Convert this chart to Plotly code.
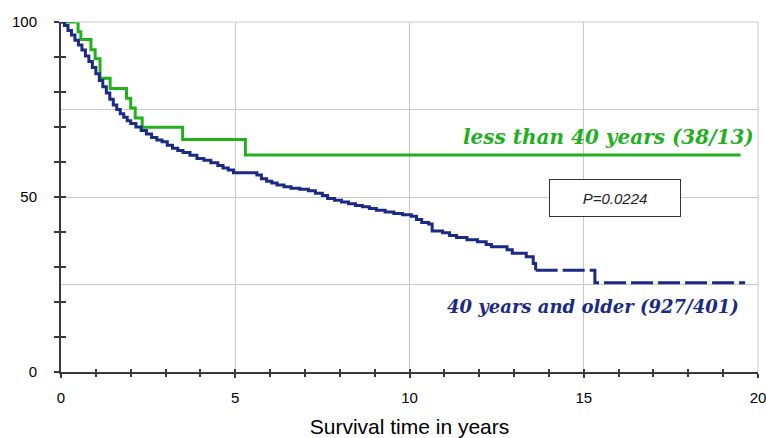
import plotly.graph_objects as go

# Kaplan-Meier style survival curves
young_years = [0, 0.49, 0.57, 0.86, 0.98, 1.12, 1.41, 1.88, 2.0, 2.13, 2.33, 3.49, 5.29, 19.5]
young_surv = [100, 97.2, 95.0, 92.1, 89.5, 83.9, 81.0, 78.2, 75.4, 72.6, 69.9, 66.4, 62.0, 62.0]

older_years = [0, 0.10, 0.20, 0.30, 0.40, 0.50, 0.60, 0.70, 0.80, 0.90, 1.00,
               1.10, 1.20, 1.30, 1.40, 1.50, 1.60, 1.70, 1.80, 1.90, 2.00,
               2.15, 2.30, 2.45, 2.60, 2.75, 2.90, 3.05, 3.20, 3.35, 3.50,
               3.70, 3.90, 4.10, 4.30, 4.50, 4.65, 4.80, 4.95, 5.62, 5.75,
               5.90, 6.05, 6.20, 6.40, 6.60, 6.85, 7.10, 7.30, 7.50, 7.65,
               7.85, 8.05, 8.25, 8.45, 8.65, 8.85, 9.05, 9.30, 9.55, 9.80,
               10.05, 10.20, 10.35, 10.55, 10.65, 10.95, 11.15, 11.35, 11.65, 11.95,
               12.20, 12.35, 12.80, 12.95, 13.35, 13.55, 13.62]
older_surv = [100, 99.0, 97.6, 96.3, 94.8, 93.4, 92.0, 90.3, 88.7, 87.0, 85.2,
              83.3, 81.5, 79.7, 77.9, 76.3, 75.0, 73.8, 72.8, 71.8, 71.0,
              70.0, 69.0, 68.0, 67.0, 66.3, 65.8, 64.8, 63.9, 63.3, 62.7,
              61.9, 61.0, 60.5, 59.8, 59.0, 58.3, 57.7, 56.9, 56.3, 55.2,
              54.5, 54.0, 53.4, 52.9, 52.5, 52.2, 51.8, 51.1, 50.4, 49.6,
              49.1, 48.6, 48.1, 47.6, 47.2, 46.7, 46.2, 45.7, 45.3, 44.9,
              44.5, 43.6, 42.7, 42.3, 40.3, 39.8, 39.0, 38.4, 37.8, 37.2,
              36.4, 35.8, 34.9, 33.9, 32.9, 31.0, 29.1]
# sparse tail, drawn dashed
tail_years = [13.62, 15.32, 19.63]
tail_surv = [29.1, 25.5, 25.5]

GREEN = '#22b01e'
BLUE = '#1b2a84'
AXIS = '#3a3a3a'
GRID = '#c9c9c9'

fig = go.Figure()

# empty traces so the overlay axes (grid + crossing ticks) get drawn
fig.add_trace(go.Scatter(x=[], y=[], xaxis='x2', yaxis='y', showlegend=False, hoverinfo='skip'))
fig.add_trace(go.Scatter(x=[], y=[], xaxis='x', yaxis='y2', showlegend=False, hoverinfo='skip'))
fig.add_trace(go.Scatter(x=[], y=[], xaxis='x', yaxis='y3', showlegend=False, hoverinfo='skip'))

fig.add_trace(go.Scatter(
    x=young_years, y=young_surv, mode='lines', line_shape='hv',
    line=dict(color=GREEN, width=3), name='less than 40 years'
))
fig.add_trace(go.Scatter(
    x=older_years, y=older_surv, mode='lines', line_shape='hv',
    line=dict(color=BLUE, width=3), name='40 years and older'
))
fig.add_trace(go.Scatter(
    x=tail_years, y=tail_surv, mode='lines', line_shape='hv',
    line=dict(color=BLUE, width=3, dash='22px,5px'), showlegend=False
))

# top and right frame lines in grid colour
fig.add_shape(type='line', xref='paper', yref='paper', x0=0.02, x1=1, y0=1, y1=1,
              line=dict(color=GRID, width=1), layer='above')
fig.add_shape(type='line', xref='paper', yref='paper', x0=1, x1=1, y0=0, y1=1,
              line=dict(color=GRID, width=1), layer='above')

fig.add_annotation(
    x=19.95, y=67.1, xref='x', yref='y', xanchor='right', yanchor='middle',
    text='<b><i>less than 40 years (38/13)</i></b>', showarrow=False,
    font=dict(family='DejaVu Serif', size=20, color=GREEN)
)
fig.add_annotation(
    x=19.52, y=18.6, xref='x', yref='y', xanchor='right', yanchor='middle',
    text='<b><i>40 years and older (927/401)</i></b>', showarrow=False,
    font=dict(family='DejaVu Serif', size=18, color=BLUE)
)
fig.add_annotation(
    x=15.9, y=49.6, xref='x', yref='y', showarrow=False,
    text='<i>P=0.0224</i>', font=dict(family='Liberation Sans', size=15, color='#222'),
    bgcolor='white', bordercolor='#333', borderwidth=1, width=128, height=34
)

tick_font = dict(family='Liberation Sans', size=15, color='black')

fig.update_layout(
    width=766, height=438,
    margin=dict(l=61, r=8, t=22, b=66),
    plot_bgcolor='white', paper_bgcolor='white',
    showlegend=False,
    xaxis=dict(
        range=[0, 20], tickvals=[0, 5, 10, 15, 20], ticks='outside', ticklen=4,
        tickwidth=1.5, tickcolor=AXIS, minor=dict(dtick=1, ticks='outside', ticklen=3, tickcolor=AXIS),
        showline=True, linecolor=AXIS, linewidth=2, showgrid=True, gridcolor=GRID,
        zeroline=False, tickfont=tick_font, ticklabelstandoff=7, automargin=False,
        ticklabeloverflow='allow', tickprefix='<b>', ticksuffix='</b>',
        title=dict(text='Survival time in years', font=dict(family='Liberation Sans', size=21, color='black'), standoff=19)
    ),
    xaxis2=dict(
        overlaying='x', anchor='y', range=[0, 20], tickvals=[0, 5, 10, 15, 20],
        ticks='inside', ticklen=3, tickwidth=1.5, tickcolor=AXIS, showticklabels=False,
        showgrid=False, zeroline=False, automargin=False,
        minor=dict(dtick=1, ticks='inside', ticklen=3, tickcolor=AXIS, showgrid=False)
    ),
    yaxis=dict(
        range=[0, 100], tickvals=[0, 50, 100], ticks='outside', ticklen=5,
        tickwidth=1.5, tickcolor=AXIS, minor=dict(dtick=10, ticks='outside', ticklen=5, tickcolor=AXIS),
        showline=True, linecolor=AXIS, linewidth=2, showgrid=False,
        zeroline=False, tickfont=tick_font, ticklabelstandoff=14, automargin=False,
        ticklabeloverflow='allow', tickprefix='<b>', ticksuffix='</b>'
    ),
    yaxis2=dict(
        overlaying='y', anchor='x', range=[0, 100], tickvals=[25, 50, 75, 100],
        showgrid=True, gridcolor=GRID, ticks='', showticklabels=False, zeroline=False,
        automargin=False
    ),
    yaxis3=dict(
        overlaying='y', anchor='x', range=[0, 100], dtick=10, ticks='inside', ticklen=5,
        tickwidth=1.5, tickcolor=AXIS, showticklabels=False, showgrid=False, zeroline=False,
        automargin=False
    ),
)

# drop the default page margin so the 766x438 figure fills the window exactly
fig.write_html("out.html", config={'displayModeBar': False},
               post_script="document.body.style.margin='0';")
